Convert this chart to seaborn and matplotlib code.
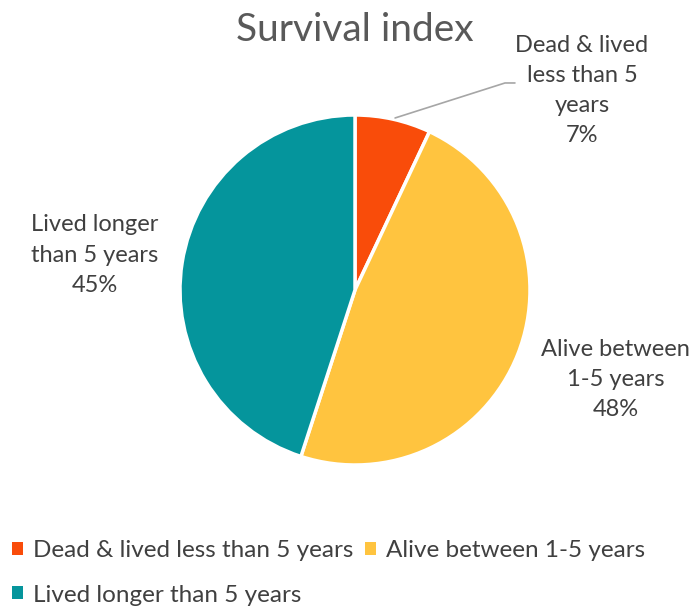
import matplotlib.pyplot as plt
import seaborn as sns
from matplotlib.patches import Patch

categories = ["Dead & lived less than 5 years", "Alive between 1-5 years", "Lived longer than 5 years"]
values = [7, 48, 45]
label_texts = ["Dead & lived\nless than 5\nyears", "Alive between\n1-5 years", "Lived longer\nthan 5 years"]
colors = ["#F94C0A", "#FFC43F", "#05959C"]


def main():
    sns.set_theme(style="white")
    plt.rcParams["font.family"] = ["Lato", "DejaVu Sans"]
    pal = sns.color_palette(colors)
    text_color = "#404040"

    fig = plt.figure(figsize=(6.96, 6.10), dpi=100)
    ax = fig.add_axes([180 / 696, 145 / 610, 350 / 696, 350 / 610])
    wedges, _ = ax.pie(values, colors=pal, startangle=90, counterclock=False,
                       wedgeprops=dict(edgecolor="white", linewidth=2.5))
    ax.set_aspect("equal")
    ax.set_xlim(-1, 1)
    ax.set_ylim(-1, 1)

    total = sum(values)
    # data labels (pie radius = 1)
    label_pos = [(1.297, 1.14), (1.49, -0.514), (-1.486, 0.2)]
    for txt, v, (x, y) in zip(label_texts, values, label_pos):
        ax.text(x, y, f"{txt}\n{round(100 * v / total)}%", ha="center", va="center",
                fontsize=17, color=text_color, linespacing=1.53, clip_on=False)

    # leader line for the small slice
    ax.plot([0.229, 0.857, 0.914], [0.983, 1.183, 1.183], color="#A6A6A6",
            linewidth=1.2, clip_on=False)

    fig.text(355 / 696, 1 - 30 / 610, "Survival index", ha="center", va="center",
             fontsize=28, color="#595959")

    handles = [Patch(facecolor=c, edgecolor="none") for c in pal]
    order = [0, 2, 1]
    fig.legend([handles[i] for i in order], [categories[i] for i in order],
               loc="center", bbox_to_anchor=(0.472, 1 - 573 / 610), ncol=2,
               frameon=False, fontsize=17.5, labelcolor=text_color,
               handlelength=0.45, handleheight=0.45, handletextpad=0.4,
               columnspacing=0.5, labelspacing=0.95)

    fig.savefig("out.png", dpi=100)


if __name__ == "__main__":
    main()
